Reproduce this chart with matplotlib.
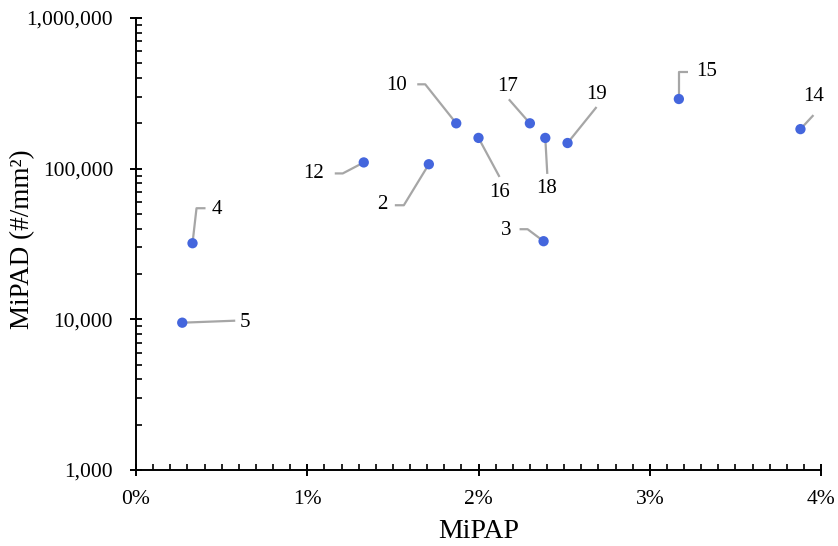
import matplotlib
matplotlib.use("Agg")
import matplotlib.pyplot as plt
import matplotlib.ticker as mticker
from matplotlib.transforms import IdentityTransform

# sample id, MiPAP (%), MiPAD (#/mm2)
sample_ids = ["4", "5", "12", "2", "10", "16", "17", "18", "19", "3", "15", "14"]
mipap_pct = [0.33, 0.27, 1.33, 1.71, 1.87, 2.00, 2.30, 2.39, 2.52, 2.38, 3.17, 3.88]
mipad = [32000, 9500, 110000, 107000, 200000, 160000, 200000, 160000, 148000, 33000, 290000, 183000]

# leader line path and label position, in pixels relative to each point (y up)
leader_paths = {
    "4": [(0, 0), (4, 35), (13, 35)],
    "5": [(0, 0), (53, 2)],
    "12": [(0, 0), (-21, -11), (-29, -11)],
    "2": [(0, 0), (-25, -41), (-34, -41)],
    "10": [(0, 0), (-31, 39), (-39, 39)],
    "16": [(0, 0), (21, -39)],
    "17": [(0, 0), (-21, 24)],
    "18": [(0, 0), (2, -36)],
    "19": [(0, 0), (29, 36)],
    "3": [(0, 0), (-16, 12), (-24, 12)],
    "15": [(0, 0), (0, 27), (9, 27)],
    "14": [(0, 0), (13, 14)],
}
label_offsets = {
    "4": (24, 34), "5": (63, 0), "12": (-50, -11), "2": (-47, -40),
    "10": (-60, 38), "16": (21, -55), "17": (-22, 37), "18": (1, -51),
    "19": (29, 49), "3": (-37, 11), "15": (28, 27), "14": (13, 33),
}

plt.rcParams["font.family"] = ["Liberation Serif", "DejaVu Serif"]

W, H = 838, 546
fig = plt.figure(figsize=(W / 100, H / 100), dpi=100)
ax = fig.add_axes([136 / W, (H - 470) / H, (821 - 136) / W, (470 - 18) / H])

ax.scatter(mipap_pct, mipad, s=55, color="#4466DD", edgecolors="none", zorder=3)

ax.set_yscale("log")
ax.set_xlim(0, 4)
ax.set_ylim(1000, 1000000)

ax.xaxis.set_major_locator(mticker.MultipleLocator(1))
ax.xaxis.set_minor_locator(mticker.MultipleLocator(0.1))
ax.xaxis.set_major_formatter(mticker.FuncFormatter(lambda v, p: f"{v:.0f}%"))
ax.yaxis.set_major_locator(mticker.LogLocator(base=10, numticks=10))
ax.yaxis.set_minor_locator(mticker.LogLocator(base=10, subs=range(2, 10), numticks=10))
ax.yaxis.set_major_formatter(mticker.FuncFormatter(lambda v, p: f"{v:,.0f}"))
ax.yaxis.set_minor_formatter(mticker.NullFormatter())

for side in ["top", "right"]:
    ax.spines[side].set_visible(False)
for side in ["left", "bottom"]:
    ax.spines[side].set_linewidth(1.4)
    ax.spines[side].set_color("black")

ax.tick_params(which="major", direction="inout", length=9, width=1.4, labelsize=15.5, colors="black")
ax.tick_params(which="minor", direction="in", length=4, width=1.2, colors="black")
ax.tick_params(axis="y", which="major", pad=12)
ax.tick_params(axis="x", which="major", pad=10)

ax.set_xlabel("MiPAP", fontsize=20, labelpad=7)
ax.set_ylabel("MiPAD (#/mm²)", fontsize=19.5)
ax.yaxis.set_label_coords(-0.147, 0.51)

# leader lines and labels drawn in display pixels from each point
fig.canvas.draw()
for sid, xv, yv in zip(sample_ids, mipap_pct, mipad):
    px, py = ax.transData.transform((xv, yv))
    path = leader_paths[sid]
    xs = [px + dx for dx, dy in path]
    ys = [py + dy for dx, dy in path]
    ax.plot(xs, ys, color="#A6A6A6", lw=1.6, transform=IdentityTransform(),
            zorder=2, solid_capstyle="butt", clip_on=False)
    tx, ty = label_offsets[sid]
    ax.text(px + tx, py + ty, sid, transform=IdentityTransform(), fontsize=15,
            ha="center", va="center", color="black")

fig.savefig("out.png", dpi=100)
